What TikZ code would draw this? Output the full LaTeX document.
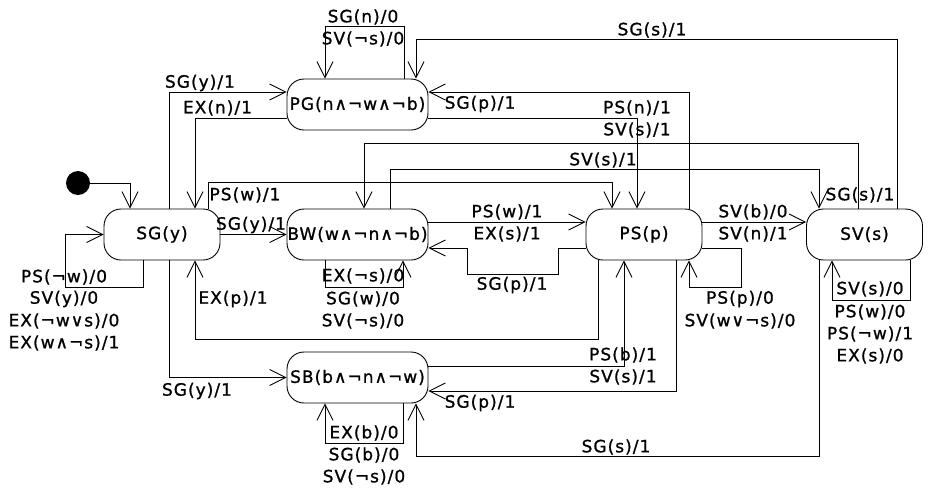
\documentclass[tikz,border=0pt]{standalone}
\usepackage{fontspec}
\setmainfont{DejaVu Sans}[LetterSpace=6,FakeBold=1]
\usetikzlibrary{arrows.meta}
\newcommand\fs{\fontsize{17}{20}\selectfont}
\tikzset{
  state/.style={draw, line width=0.9pt, rounded corners=17pt, minimum height=51pt, inner sep=0pt, font=\fs},
  trans/.style={draw, line width=0.9pt, -{Straight Barb[length=16pt,width=16pt]}},
  lbl/.style={inner sep=0pt, font=\fs},
}
\begin{document}
\begin{tikzpicture}[x=1pt,y=-1pt]
\useasboundingbox (0,0) rectangle (929,499);
% states
\node[state, minimum width=141pt] (PG) at (357.5,104.5) {PG(n∧¬w∧¬b)};
\node[state, minimum width=116pt] (SG) at (162,234.5) {SG(y)};
\node[state, minimum width=141pt] (BW) at (357.5,234.5) {BW(w∧¬n∧¬b)};
\node[state, minimum width=141pt] (SB) at (357.5,377.5) {SB(b∧¬n∧¬w)};
\node[state, minimum width=116pt] (PS) at (644,234.5) {PS(p)};
\node[state, minimum width=116pt] (SV) at (864.5,234.5) {SV(s)};
\node[circle, fill, minimum size=24pt, inner sep=0pt] (init) at (78,183) {};
% transitions
\draw[trans] (init) -| ([xshift=-32pt]SG.north);
\draw[trans] ([xshift=7pt]SG.north) |- ([yshift=12.5pt]PG.west);
\draw[trans] ([yshift=-13.5pt]PG.west) -| ([xshift=33pt]SG.north);
\draw[trans] ([xshift=46.5pt]PG.north) -- ++(0,-52) -| ([xshift=-32.5pt]PG.north);
\draw[trans] ([xshift=32.5pt]SV.north) -- ++(0,-169) -| ([xshift=58.5pt]PG.north);
\draw[trans] ([xshift=45pt]PS.north) |- ([yshift=12.5pt]PG.east);
\draw[trans] ([yshift=-13.5pt]PG.east) -| ([xshift=-7pt]PS.north);
\draw[trans] ([xshift=-6.5pt]SV.north) -- ++(0,-65) -| ([xshift=6.5pt]BW.north);
\draw[trans] ([xshift=32.5pt]BW.north) -- ++(0,-39) -| ([xshift=-45.5pt]SV.north);
\draw[trans] ([xshift=46pt]SG.north) -- ++(0,-26) -| ([xshift=-32pt]PS.north);
\draw[trans] (SG) -- (BW);
\draw[trans] ([yshift=12.5pt]BW.east) -- ([yshift=12.5pt]PS.west);
\draw[trans] ([yshift=-13.5pt]PS.west) -- ++(-27,0) -- ++(0,26) -- ++(-91,0) -- ++(0,-26) -- ([yshift=-13.5pt]BW.east);
\draw[trans] ([xshift=-32.5pt]BW.south) -- ++(0,27) -| ([xshift=45.5pt]BW.south);
\draw[trans] ([xshift=-19pt]SG.south) -- ++(0,27) -- ++(-78,0) |- (SG.west);
\draw[trans] ([xshift=-46pt]PS.south) -- ++(0,79) -| ([xshift=33pt]SG.south);
\draw[trans] ([xshift=7pt]SG.south) |- (SB.west);
\draw[trans] ([yshift=11.5pt]SB.east) -| ([xshift=-20pt]PS.south);
\draw[trans] ([xshift=32.5pt]PS.south) |- ([yshift=-13.5pt]SB.east);
\draw[trans] ([xshift=45.5pt]SB.south) -- ++(0,40) -| ([xshift=-32.5pt]SB.south);
\draw[trans] ([xshift=-45.5pt]SV.south) -- ++(0,196) -| ([xshift=58.5pt]SB.south);
\draw[trans] ([yshift=-13.5pt]PS.east) -- ++(39,0) -- ++(0,39) -| ([xshift=45pt]PS.south);
\draw[trans] ([yshift=12.5pt]PS.east) -- ([yshift=12.5pt]SV.west);
\draw[trans] ([xshift=45.5pt]SV.south) -- ++(0,40) -| ([xshift=-32.5pt]SV.south);
% labels
\node[lbl] (a1) at (200,83) {SG(y)/1};
\node[lbl] (a2) at (217.5,108) {EX(n)/1};
\node[lbl] (a3) at (363,17) {SG(n)/0};
\node[lbl] (a4) at (363,39) {SV(¬s)/0};
\node[lbl] (a5) at (652,30) {SG(s)/1};
\node[lbl] (a6) at (480,104) {SG(p)/1};
\node[lbl] (a7) at (637,108) {PS(n)/1};
\node[lbl] (a8) at (637,130) {SV(s)/1};
\node[lbl] (a9) at (603,160) {SV(s)/1};
\node[lbl] (a10) at (860,195) {SG(s)/1};
\node[lbl] (a11) at (245,195) {PS(w)/1};
\node[lbl] (a12) at (251,225) {SG(y)/1};
\node[lbl] (a13) at (507,212) {PS(w)/1};
\node[lbl] (a14) at (507,234) {EX(s)/1};
\node[lbl] (a15) at (512,285) {SG(p)/1};
\node[lbl] (a16) at (753,212) {SV(b)/0};
\node[lbl] (a17) at (753,234) {SV(n)/1};
\node[lbl] (a18) at (363,276) {EX(¬s)/0};
\node[lbl] (a19) at (363,299) {SG(w)/0};
\node[lbl] (a20) at (363,321) {SV(¬s)/0};
\node[lbl] (a21) at (64,277) {PS(¬w)/0};
\node[lbl] (a22) at (64,299) {SV(y)/0};
\node[lbl] (a23) at (64,321) {EX(¬w∨s)/0};
\node[lbl] (a24) at (64,343) {EX(w∧¬s)/1};
\node[lbl] (a25) at (233,299) {EX(p)/1};
\node[lbl] (a26) at (197,391) {SG(y)/1};
\node[lbl] (a27) at (364,433) {EX(b)/0};
\node[lbl] (a28) at (364,455) {SG(b)/0};
\node[lbl] (a29) at (364,477) {SV(¬s)/0};
\node[lbl] (a30) at (480,403) {SG(p)/1};
\node[lbl] (a31) at (623,355) {PS(b)/1};
\node[lbl] (a32) at (623,377) {SV(s)/1};
\node[lbl] (a33) at (616,447) {SG(s)/1};
\node[lbl] (a34) at (740,299) {PS(p)/0};
\node[lbl] (a35) at (740,321) {SV(w∨¬s)/0};
\node[lbl] (a36) at (870,289) {SV(s)/0};
\node[lbl] (a37) at (870,312) {PS(w)/0};
\node[lbl] (a38) at (870,334) {PS(¬w)/1};
\node[lbl] (a39) at (870,356) {EX(s)/0};
\end{tikzpicture}
\end{document}
